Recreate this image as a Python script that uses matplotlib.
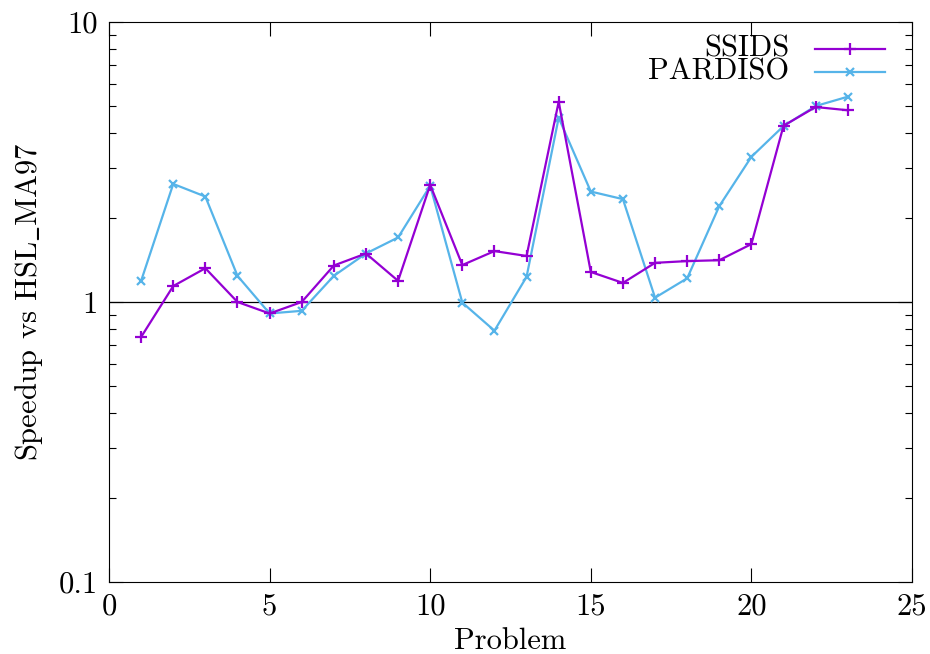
import numpy as np
import matplotlib
matplotlib.use("Agg")
import matplotlib.pyplot as plt
from matplotlib.ticker import FixedLocator, FixedFormatter, NullFormatter

# ----- data -----
problems = list(range(1, 24))

ssids = [0.75, 1.14, 1.32, 1.00, 0.91, 1.00, 1.35, 1.49, 1.19, 2.62,
         1.355, 1.52, 1.46, 5.19, 1.28, 1.17, 1.38, 1.40, 1.41, 1.61,
         4.26, 4.97, 4.84]

pardiso = [1.19, 2.64, 2.38, 1.24, 0.91, 0.93, 1.24, 1.49, 1.70, 2.60,
           0.995, 0.79, 1.23, 4.55, 2.48, 2.33, 1.036, 1.215, 2.20, 3.30,
           4.25, 5.01, 5.41]

xticks = [0, 5, 10, 15, 20, 25]
yticks = [0.1, 1, 10]
yticklabels = ["0.1", "1", "10"]

ssids_color = "#9400d3"
pardiso_color = "#56b4e9"

plt.rcParams.update({
    "font.family": "serif",
    "font.serif": ["cmr10", "DejaVu Serif"],
    "mathtext.fontset": "cm",
    "axes.unicode_minus": False,
    "font.size": 22,
    "axes.linewidth": 0.8,
})

fig = plt.figure(figsize=(9.3, 6.54), dpi=100)
ax = fig.add_axes([109 / 930, 1 - 582 / 654, (912 - 109) / 930, (582 - 22) / 654])

ax.axhline(1.0, color="black", lw=0.9, zorder=1)

ax.plot(problems, ssids, color=ssids_color, lw=1.6, marker="+",
        markersize=9, markeredgewidth=1.6, zorder=3)
ax.plot(problems, pardiso, color=pardiso_color, lw=1.6, marker="x",
        markersize=6, markeredgewidth=1.6, zorder=2)

ax.set_yscale("log")
ax.set_xlim(0, 25)
ax.set_ylim(0.1, 10)

ax.xaxis.set_major_locator(FixedLocator(xticks))
ax.yaxis.set_major_locator(FixedLocator(yticks))
ax.yaxis.set_major_formatter(FixedFormatter(yticklabels))
minors = [m * d for d in (0.1, 1) for m in range(2, 10)]
ax.yaxis.set_minor_locator(FixedLocator(minors))
ax.yaxis.set_minor_formatter(NullFormatter())
ax.xaxis.set_minor_locator(FixedLocator([]))

ax.tick_params(which="major", direction="in", length=10, width=0.8,
               top=True, right=True, pad=8)
ax.tick_params(which="minor", direction="in", length=5, width=0.8,
               top=True, right=True)

ax.set_xlabel("Problem", labelpad=5)
ax.set_ylabel(r"Speedup vs HSL$\_$MA97", labelpad=10)

# gnuplot-style key: right-aligned text, sample line to its right
trans = ax.transAxes
key = [("SSIDS", ssids_color, "+", 9, 0.952), ("PARDISO", pardiso_color, "x", 6, 0.911)]
for name, col, mk, ms, yk in key:
    ax.text(0.847, yk, name, ha="right", va="center", transform=trans)
    ax.plot([0.879, 0.966], [yk, yk], color=col, lw=1.6, transform=trans, clip_on=False)
    ax.plot([0.9225], [yk], color=col, marker=mk, markersize=ms,
            markeredgewidth=1.6, transform=trans, clip_on=False)

fig.savefig("out.png", dpi=100)
